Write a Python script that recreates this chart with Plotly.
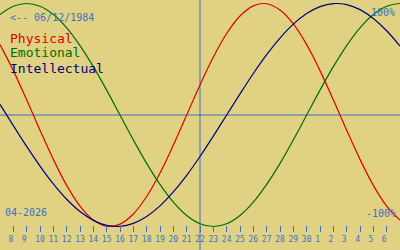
import plotly.graph_objects as go

# Day index: April d -> d, May d -> 30 + d
days = list(range(7, 38))

physical = [0.631, 0.398, 0.136, -0.136, -0.398, -0.631, -0.817, -0.942, -0.998, -0.979,
            -0.888, -0.731, -0.520, -0.270, 0.0, 0.270, 0.520, 0.731, 0.888, 0.979,
            0.998, 0.942, 0.817, 0.631, 0.398, 0.136, -0.136, -0.398, -0.631, -0.817, -0.942]
emotional = [0.901, 0.975, 1.0, 0.975, 0.901, 0.782, 0.623, 0.434, 0.223, 0.0,
             -0.223, -0.434, -0.623, -0.782, -0.901, -0.975, -1.0, -0.975, -0.901, -0.782,
             -0.623, -0.434, -0.223, 0.0, 0.223, 0.434, 0.623, 0.782, 0.901, 0.975, 1.0]
intellectual = [0.095, -0.095, -0.282, -0.458, -0.618, -0.756, -0.866, -0.945, -0.990, -0.999,
                -0.972, -0.910, -0.815, -0.690, -0.541, -0.372, -0.189, 0.0, 0.189, 0.372,
                0.541, 0.690, 0.815, 0.910, 0.972, 0.999, 0.990, 0.945, 0.866, 0.756, 0.618]

tick_days = list(range(8, 37))
tick_labels = [str(d) for d in range(8, 31)] + [str(d) for d in range(1, 7)]
today = 22

series_names = ["Physical", "Emotional", "Intellectual"]
series_colors = ["#e00000", "#006e00", "#000080"]
series_values = [physical, emotional, intellectual]

BG = "#e1d283"
BLUE = "#3a70c8"
MONO = "DejaVu Sans Mono"

fig = go.Figure()
for name, col, vals in zip(series_names, series_colors, series_values):
    fig.add_trace(go.Scatter(x=days, y=vals, mode="lines", name=name,
                             line=dict(color=col, width=1.2, shape="spline", smoothing=1),
                             hoverinfo="skip"))

W, H = 400, 250


def px(x):
    return x / W


def py(y):
    return 1 - y / H


ann = []
ann.append(dict(text="<-- 06/12/1984", x=px(8), y=py(17), xanchor="left", yanchor="middle",
                font=dict(family=MONO, size=10, color=BLUE)))
for i, (name, col) in enumerate(zip(series_names, series_colors)):
    ann.append(dict(text=name, x=px(8), y=py(38 + 15 * i), xanchor="left", yanchor="middle",
                    font=dict(family=MONO, size=13, color=col)))
ann.append(dict(text="04-2026", x=px(3), y=py(212), xanchor="left", yanchor="middle",
                font=dict(family=MONO, size=10, color=BLUE)))
ann.append(dict(text="100%", x=px(397), y=py(12), xanchor="right", yanchor="middle",
                font=dict(family=MONO, size=10, color=BLUE)))
ann.append(dict(text="-100%", x=px(398), y=py(213), xanchor="right", yanchor="middle",
                font=dict(family=MONO, size=10, color=BLUE)))
for a in ann:
    a.update(xref="paper", yref="paper", showarrow=False)

fig.update_layout(
    width=W, height=H, margin=dict(l=0, r=0, t=0, b=0),
    paper_bgcolor=BG, plot_bgcolor=BG, showlegend=False,
    annotations=ann,
    shapes=[
        dict(type="line", xref="x", yref="paper", x0=today, x1=today, y0=0, y1=1,
             line=dict(color=BLUE, width=1), layer="below"),
        dict(type="line", xref="paper", yref="y", x0=0, x1=1, y0=0, y1=0,
             line=dict(color=BLUE, width=1), layer="below"),
    ],
    xaxis=dict(range=[7, 37], showgrid=False, zeroline=False, showline=False,
               anchor="free", position=0.1, ticks="outside", ticklen=6, tickwidth=1,
               tickcolor=BLUE, tickvals=tick_days,
               ticktext=[t if len(t) > 1 else t + "\u00a0" for t in tick_labels],
               tickfont=dict(family=MONO, size=8, color=BLUE)),
    yaxis=dict(range=[-1.2108, 1.0314], visible=False, domain=[0, 1]),
)

fig.write_html("out.html")
